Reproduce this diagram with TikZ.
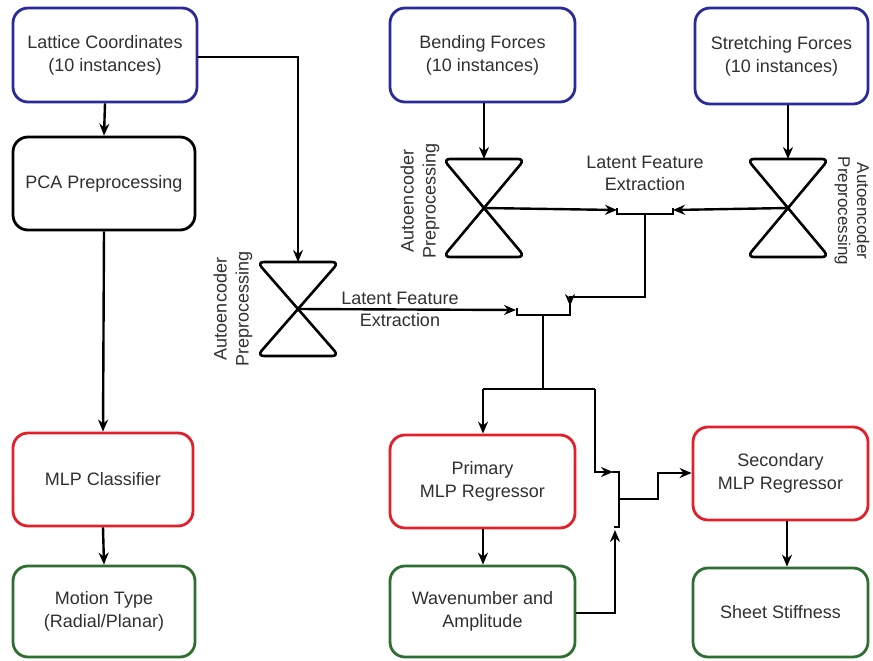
\documentclass[tikz,border=0pt]{standalone}
\usepackage{fontspec}
\setmainfont{Liberation Sans}
\usetikzlibrary{arrows.meta}
\definecolor{bblue}{HTML}{2B2A9A}
\definecolor{bred}{HTML}{E0202A}
\definecolor{bgreen}{HTML}{2E6E30}
\definecolor{txt}{HTML}{303030}
\begin{document}
\begin{tikzpicture}[x=1pt,y=-1pt,
  box/.style={draw, line width=2.8pt, rounded corners=15pt, align=center, text=txt,
    font=\fontsize{18}{23}\selectfont, inner sep=0pt},
  conn/.style={line width=2.4pt, black},
  arr/.style={conn, -{Stealth[length=12pt,width=10pt]}},
  hglass/.style={line width=2.6pt, rounded corners=7pt},
  lbl/.style={align=center, text=txt, font=\fontsize{18}{22}\selectfont, inner sep=0pt}
]
\useasboundingbox (0,0) rectangle (873,661);
\fill[white] (0,0) rectangle (873,661);

% boxes
\node[box, draw=bblue, minimum width=184pt, minimum height=94pt] (lat) at (105,55) {Lattice Coordinates\\(10 instances)};
\node[box, draw=black, minimum width=182pt, minimum height=93pt] (pca) at (104,183.5) {PCA Preprocessing};
\node[box, draw=bred, minimum width=180pt, minimum height=93pt] (mlpc) at (103,479.5) {MLP Classifier};
\node[box, draw=bgreen, minimum width=182pt, minimum height=91pt] (motion) at (104,611.5) {Motion Type\\(Radial/Planar)};
\node[box, draw=bblue, minimum width=185pt, minimum height=94pt] (bend) at (482.5,55) {Bending Forces\\(10 instances)};
\node[box, draw=bblue, minimum width=173pt, minimum height=96pt] (stretch) at (781.5,56) {Stretching Forces\\(10 instances)};
\node[box, draw=bred, minimum width=185pt, minimum height=93pt] (prim) at (482.5,481.5) {Primary\\MLP Regressor};
\node[box, draw=bgreen, minimum width=185pt, minimum height=91pt] (wave) at (482.5,611.5) {Wavenumber and\\Amplitude};
\node[box, draw=bred, minimum width=175pt, minimum height=93pt] (sec) at (780.5,473.5) {Secondary\\MLP Regressor};
\node[box, draw=bgreen, minimum width=175pt, minimum height=89pt] (sheet) at (780.5,612.5) {Sheet Stiffness};

% hourglasses
\coordinate (hg1) at (298,309);
\coordinate (hg1t) at (298,262);
\draw[hglass] (257,262) -- (339,262) -- (257,356) -- (339,356) -- cycle;
\coordinate (hg2) at (484,208);
\coordinate (hg2t) at (484,159);
\draw[hglass] (443,159) -- (525,159) -- (443,257) -- (525,257) -- cycle;
\coordinate (hg3) at (788,208);
\coordinate (hg3t) at (788,159);
\draw[hglass] (747,159) -- (829,159) -- (747,257) -- (829,257) -- cycle;

% rotated labels
\node[lbl, rotate=90] (ae1) at (233,309) {Autoencoder\\Preprocessing};
\node[lbl, rotate=90] (ae2) at (420,201) {Autoencoder\\Preprocessing};
\node[lbl, rotate=-90, font=\fontsize{17}{19}\selectfont] (ae3) at (852,211) {Autoencoder\\Preprocessing};
\node[lbl] (lf1) at (400,309) {Latent Feature\\Extraction};
\node[lbl] (lf2) at (645,173) {Latent Feature\\Extraction};

% left column
\draw[arr] (lat.south) -- (pca.north);
\draw[arr] (pca.south) -- (mlpc.north);
\draw[arr] (mlpc.south) -- (motion.north);

% lattice to autoencoder
\coordinate (c1) at (298,57);
\draw[arr] (lat.east |- c1) -- (c1) -- (hg1t);

% forces to autoencoders
\draw[arr] (bend.south -| hg2) -- (hg2t);
\draw[arr] (stretch.south -| hg3) -- (hg3t);

% upper junction
\coordinate (j1a) at (617,210);
\coordinate (j1b) at (673,210);
\draw[arr] (hg2) -- (j1a);
\draw[arr] (hg3) -- (j1b);
\draw[conn] (617,208) -- (617,214) -- (673,214) -- (673,208);
\coordinate (j1s) at (645,214);
\coordinate (j1e) at (645,297);
\coordinate (j2a) at (570,306);
\draw[arr] (j1s) -- (j1e) -- (570,297) -- (j2a);

% middle junction
\coordinate (j2b) at (516,310);
\draw[arr] (hg1) -- (j2b);
\draw[conn] (517,308) -- (517,315) -- (570,315) -- (570,304);
\coordinate (j2s) at (543,315);
\coordinate (j2e) at (543,389);
\draw[conn] (j2s) -- (j2e);
\coordinate (split) at (483,389);
\coordinate (split2) at (595,389);
\draw[conn] (split) -- (split2);
\draw[arr] (split) -- (prim.north -| split);
\coordinate (j3a) at (613,472);
\draw[arr] (split2) -- (595,472) -- (j3a);

\draw[arr] (prim.south -| split) -- (wave.north -| split);

% lower junction
\coordinate (j3b) at (615,530);
\coordinate (w1) at (615,613);
\draw[arr] (wave.east |- w1) -- (w1) -- (j3b);
\draw[conn] (612,472) -- (619,472) -- (619,527) -- (614,527);
\coordinate (j3s) at (619,499);
\coordinate (j3m) at (658,499);
\coordinate (j3n) at (658,473);
\draw[arr] (j3s) -- (j3m) -- (j3n) -- (sec.west |- j3n);

% secondary to stiffness
\coordinate (s1) at (787,473);
\draw[arr] (sec.south -| s1) -- (sheet.north -| s1);
\end{tikzpicture}
\end{document}
